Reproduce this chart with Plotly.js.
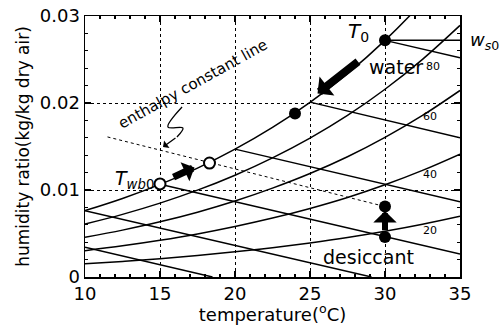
<!DOCTYPE html>
<html>
<head>
<meta charset="utf-8">
<script src="https://cdn.plot.ly/plotly-3.0.1.min.js"></script>
<style>html,body{margin:0;padding:0;background:#fff}#chart{width:500px;height:325px}</style>
</head>
<body>
<div id="chart"></div>
<script>
// Temperatures (°C) at which the relative-humidity curves were read
const temps = [10, 12.5, 15, 17.5, 20, 22.5, 25, 27.5, 30, 32.5, 35];
// Humidity ratio (kg/kg dry air) of each relative-humidity curve
const rh100 = [0.00763, 0.00903, 0.01065, 0.01252, 0.01470, 0.01720, 0.02008, 0.02338, 0.02720, 0.03159, 0.03658];
const rh80  = [0.00609, 0.00720, 0.00849, 0.00998, 0.01170, 0.01369, 0.01596, 0.01857, 0.02158, 0.02502, 0.02892];
const rh60  = [0.00456, 0.00539, 0.00634, 0.00745, 0.00873, 0.01021, 0.01189, 0.01382, 0.01605, 0.01857, 0.02144];
const rh40  = [0.00303, 0.00358, 0.00422, 0.00495, 0.00580, 0.00677, 0.00788, 0.00914, 0.01060, 0.01226, 0.01413];
const rh20  = [0.00151, 0.00179, 0.00210, 0.00247, 0.00289, 0.00337, 0.00392, 0.00454, 0.00526, 0.00607, 0.00699];
const rhLabels = ['80', '60', '40', '20'];

// Constant-enthalpy lines (start, end)
const enthT = [[30, 35], [25, 35], [20, 35], [15, 35], [10, 29.1], [10, 18.5]];
const enthW = [[0.0272, 0.0252], [0.0201, 0.0160], [0.0147, 0.00866], [0.01065, 0.00265], [0.00763, 0], [0.00341, 0]];

// Dashed enthalpy constant line
const dashT = [11.5, 30];
const dashW = [0.0161, 0.0081];

// w_s0 horizontal line
const ws0T = [30, 35];
const ws0W = [0.0272, 0.0272];

// State points
const filledT = [30, 24, 30, 30];
const filledW = [0.0272, 0.0188, 0.0081, 0.0046];
const openT = [15, 18.3];
const openW = [0.0107, 0.0131];

// Squiggle of the pointer
const sqT = [16.47, 15.53, 16.53, 16.13];
const sqW = [0.01954, 0.01724, 0.01713, 0.01609];

const lineStyle = {color: '#000', width: 1.5};
const traces = [];
[rh100, rh80, rh60, rh40, rh20].forEach(w => {
  traces.push({x: temps, y: w, mode: 'lines', line: Object.assign({shape: 'spline'}, lineStyle), hoverinfo: 'skip'});
});
enthT.forEach((t, i) => {
  traces.push({x: t, y: enthW[i], mode: 'lines', line: lineStyle, hoverinfo: 'skip'});
});
traces.push({x: ws0T, y: ws0W, mode: 'lines', line: lineStyle});
traces.push({x: dashT, y: dashW, mode: 'lines', line: {color: '#000', width: 1, dash: 'dot'}});
traces.push({x: sqT, y: sqW, mode: 'lines', line: {color: '#000', width: 1.3, shape: 'spline'}});
traces.push({x: filledT, y: filledW, mode: 'markers', marker: {color: '#000', size: 12}});
traces.push({x: openT, y: openW, mode: 'markers', marker: {color: '#fff', size: 11, line: {color: '#000', width: 2}}});

const font = 'DejaVu Sans, Arial, sans-serif';
const ann = [];
function label(x, y, text, size, extra) {
  ann.push(Object.assign({x: x, y: y, xref: 'x', yref: 'y', text: text, showarrow: false,
    font: {family: font, size: size, color: '#000'}}, extra || {}));
}
function arrow(x0, y0, x1, y1, w, s) {
  ann.push({x: x1, y: y1, ax: x0, ay: y0, xref: 'x', yref: 'y', axref: 'x', ayref: 'y', text: '',
    showarrow: true, arrowhead: 1, arrowsize: s, arrowwidth: w, arrowcolor: '#000'});
}
label(28.2, 0.0282, '<i>T</i><sub>0</sub>', 20);
label(30.7, 0.0241, 'water', 19);
label(33.2, 0.0242, rhLabels[0], 11);
label(33.0, 0.0184, rhLabels[1], 11);
label(33.0, 0.0118, rhLabels[2], 11);
label(33.0, 0.0053, rhLabels[3], 11);
label(28.9, 0.0023, 'desiccant', 19);
label(13.3, 0.0112, '<i>T</i><sub><i>wb</i>0</sub>', 19);
label(17.2, 0.0222, 'enthalpy constant line', 15, {textangle: -29});
ann.push({x: 1.02, y: 0.0271, xref: 'paper', yref: 'y', xanchor: 'left', text: '<i>w</i><sub><i>s</i>0</sub>',
  showarrow: false, font: {family: font, size: 18, color: '#000'}});
arrow(28.3, 0.0249, 25.5, 0.0211, 8, 0.5);
arrow(15.8, 0.0114, 17.3, 0.0126, 7, 0.5);
arrow(30, 0.0052, 30, 0.0076, 6, 0.65);
arrow(16.13, 0.01609, 15.2, 0.01494, 1.3, 1.2);

const axisCommon = {
  showline: true, linecolor: '#000', linewidth: 1.5, mirror: 'allticks',
  ticks: 'inside', ticklen: 6, tickwidth: 1.2, tickcolor: '#000',
  showgrid: true, gridcolor: '#000', gridwidth: 1, griddash: 'dot',
  zeroline: false, tickfont: {family: font, size: 18, color: '#000'},
};
const layout = {
  width: 500, height: 325,
  margin: {l: 85, r: 40, t: 16, b: 48},
  paper_bgcolor: '#fff', plot_bgcolor: '#fff',
  showlegend: false,
  xaxis: Object.assign({}, axisCommon, {range: [10, 35], dtick: 5, tick0: 10,
    minor: {dtick: 1, ticks: 'inside', ticklen: 3, tickcolor: '#000', showgrid: false},
    title: {text: 'temperature(<sup>o</sup>C)', font: {family: font, size: 18, color: '#000'}, standoff: 3}}),
  yaxis: Object.assign({}, axisCommon, {range: [0, 0.03], dtick: 0.01, tick0: 0,
    minor: {dtick: 0.002, ticks: 'inside', ticklen: 3, tickcolor: '#000', showgrid: false},
    title: {text: 'humidity ratio(kg/kg dry air)', font: {family: font, size: 17, color: '#000'}, standoff: 6}}),
  annotations: ann,
};
Plotly.newPlot('chart', traces, layout, {staticPlot: true, displayModeBar: false});
</script>
</body>
</html>
